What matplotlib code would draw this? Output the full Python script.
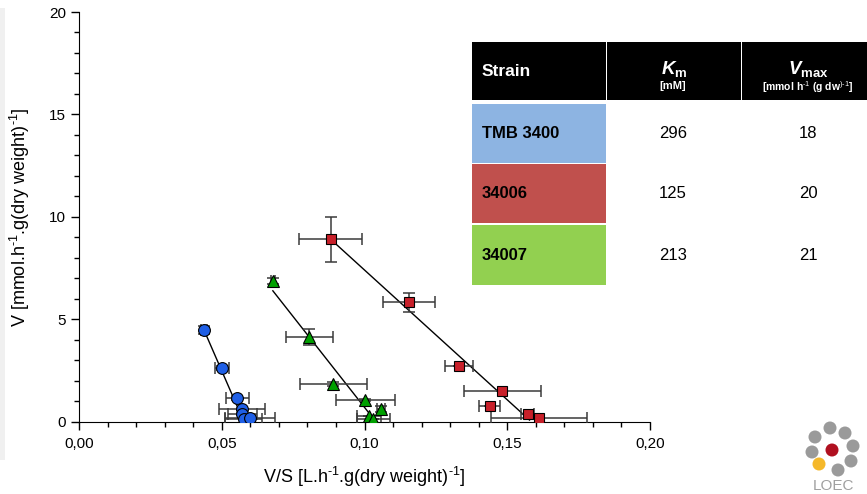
import matplotlib
matplotlib.use("Agg")
import matplotlib.pyplot as plt
from matplotlib.patches import Rectangle, Circle
from matplotlib.ticker import MultipleLocator, FuncFormatter

plt.rcParams["font.family"] = ["Liberation Sans", "DejaVu Sans"]
plt.rcParams["mathtext.fontset"] = "custom"
plt.rcParams["mathtext.rm"] = "Liberation Sans"
plt.rcParams["mathtext.it"] = "Liberation Sans:italic"
plt.rcParams["mathtext.bf"] = "Liberation Sans:bold"
plt.rcParams["mathtext.bfit"] = "Liberation Sans:italic:bold"

# TMB 3400 (blue circles)
blue_x = [0.0438, 0.0501, 0.0554, 0.0572, 0.0572, 0.0577, 0.0600]
blue_y = [4.47, 2.62, 1.16, 0.62, 0.36, 0.13, 0.17]
blue_xerr = [0.0010, 0.0026, 0.0040, 0.0080, 0.0050, 0.0064, 0.0088]
blue_yerr = [0.18, 0.10, 0.08, 0.05, 0.05, 0.0, 0.0]
blue_fit_x = [0.0438, 0.0575]
blue_fit_y = [4.47, 0.08]

# 34007 (green triangles)
green_x = [0.0679, 0.0807, 0.0891, 0.1003, 0.1058, 0.1015, 0.1031]
green_y = [6.88, 4.12, 1.84, 1.06, 0.60, 0.28, 0.15]
green_xerr = [0.0008, 0.0082, 0.0117, 0.0103, 0.0015, 0.0042, 0.0058]
green_yerr = [0.15, 0.40, 0.10, 0.05, 0.15, 0.0, 0.0]
green_fit_x = [0.0679, 0.1026]
green_fit_y = [6.39, 0.24]

# 34006 (red squares)
red_x = [0.0882, 0.1155, 0.1331, 0.1483, 0.1438, 0.1572, 0.1611]
red_y = [8.90, 5.82, 2.72, 1.50, 0.75, 0.36, 0.17]
red_xerr = [0.0110, 0.0091, 0.0049, 0.0135, 0.0038, 0.0023, 0.0167]
red_yerr = [1.11, 0.47, 0.0, 0.0, 0.0, 0.0, 0.0]
red_fit_x = [0.0882, 0.1578]
red_fit_y = [8.90, 0.08]

# table
strains = ["TMB 3400", "34006", "34007"]
km_vals = ["296", "125", "213"]
vmax_vals = ["18", "20", "21"]
strain_colors = ["#8DB4E2", "#C0504D", "#92D050"]

fig = plt.figure(figsize=(8.67, 4.94), dpi=100)
ax = fig.add_axes([79 / 867, 1 - 421.7 / 494, 571 / 867, 409.7 / 494])

def plot_series(x, y, xe, ye, fx, fy, marker, color, ms):
    ax.plot(fx, fy, color="black", lw=1.0, zorder=2)
    ax.errorbar(x, y, xerr=xe, yerr=ye, fmt="none", ecolor="#3a3a3a",
                elinewidth=1.1, capsize=4, capthick=1.1, zorder=3)
    ax.plot(x, y, linestyle="none", marker=marker, color=color, ms=ms,
            markeredgecolor="black", markeredgewidth=0.8, zorder=4)

plot_series(blue_x, blue_y, blue_xerr, blue_yerr, blue_fit_x, blue_fit_y, "o", "#1f5fe6", 8.5)
plot_series(green_x, green_y, green_xerr, green_yerr, green_fit_x, green_fit_y, "^", "#00a000", 9)
plot_series(red_x, red_y, red_xerr, red_yerr, red_fit_x, red_fit_y, "s", "#c8202a", 7.5)

ax.set_xlim(0, 0.20)
ax.set_ylim(0, 20)
ax.spines["top"].set_visible(False)
ax.spines["right"].set_visible(False)
ax.xaxis.set_major_locator(MultipleLocator(0.05))
ax.xaxis.set_minor_locator(MultipleLocator(0.01))
ax.yaxis.set_major_locator(MultipleLocator(5))
ax.yaxis.set_minor_locator(MultipleLocator(1))
ax.xaxis.set_major_formatter(FuncFormatter(lambda v, p: f"{v:.2f}".replace(".", ",")))
ax.tick_params(which="major", length=6, width=1, labelsize=11, direction="out")
ax.tick_params(which="minor", length=3.5, width=1, direction="out")
ax.tick_params(axis="x", pad=5)
ax.set_xlabel(r"V/S [L.h$^{\text{-1}}$.g(dry weight)$^{\text{-1}}$]", fontsize=13, labelpad=10)
ax.set_ylabel(r"V [mmol.h$^{\text{-1}}$.g(dry weight)$^{\text{-1}}$]", fontsize=13, labelpad=12)

# table axes in pixel coordinates
tb = fig.add_axes([472 / 867, 1 - 285 / 494, 395 / 867, 243 / 494])
tb.set_xlim(472, 867)
tb.set_ylim(285, 42)
tb.axis("off")
cols = [(472, 606), (607, 741), (742, 880)]
rows = [(42.5, 100.5), (104, 163), (164.5, 223.5), (225, 285)]
for (x0, x1) in cols:
    tb.add_patch(Rectangle((x0, rows[0][0]), x1 - x0, rows[0][1] - rows[0][0],
                           facecolor="black", edgecolor="none"))
tb.text(482, 72, "Strain", color="white", fontsize=12.5, fontweight="bold", va="center")
tb.text(674, 69, r"$\mathbfit{K}_{\mathbf{m}}$", color="white", fontsize=13.5,
        ha="center", va="center")
tb.text(673, 86, "[mM]", color="white", fontsize=8, ha="center", va="center", fontweight="bold")
tb.text(808, 69, r"$\mathbfit{V}_{\mathbf{max}}$", color="white", fontsize=13.5,
        ha="center", va="center")
tb.text(808, 87, r"[mmol h$^{\text{-1}}$ (g dw$^{\text{)-1}}$]", color="white", fontsize=7.5,
        ha="center", va="center", fontweight="bold")
for i, name in enumerate(strains):
    y0, y1 = rows[i + 1]
    tb.add_patch(Rectangle((472, y0), 134, y1 - y0, facecolor=strain_colors[i], edgecolor="none"))
    yc = (y0 + y1) / 2
    tb.text(482, yc, name, color="black", fontsize=12, fontweight="bold", va="center")
    tb.text(673, yc, km_vals[i], color="black", fontsize=12, ha="center", va="center")
    tb.text(808, yc, vmax_vals[i], color="black", fontsize=12, ha="center", va="center")

# faint strip on the left edge and logo
deco = fig.add_axes([0, 0, 1, 1], zorder=-1)
deco.set_xlim(0, 867)
deco.set_ylim(494, 0)
deco.axis("off")
deco.add_patch(Rectangle((0, 8), 5, 452, facecolor="#f0f0f0", edgecolor="none"))
logo = fig.add_axes([0, 0, 1, 1], zorder=5)
logo.set_xlim(0, 867)
logo.set_ylim(494, 0)
logo.axis("off")
for cx, cy in [(830, 428), (845, 433), (815, 437), (853, 446), (812, 452), (851, 461), (838, 470)]:
    logo.add_patch(Circle((cx, cy), 6.5, facecolor="#9a9a9a", edgecolor="none"))
logo.add_patch(Circle((832, 450), 6.5, facecolor="#b01020", edgecolor="none"))
logo.add_patch(Circle((819, 464), 6.5, facecolor="#f5b82a", edgecolor="none"))
logo.text(833, 486, "LOEC", fontsize=11, color="#a0a0a0", ha="center", va="center")

fig.savefig("out.png", dpi=100)
